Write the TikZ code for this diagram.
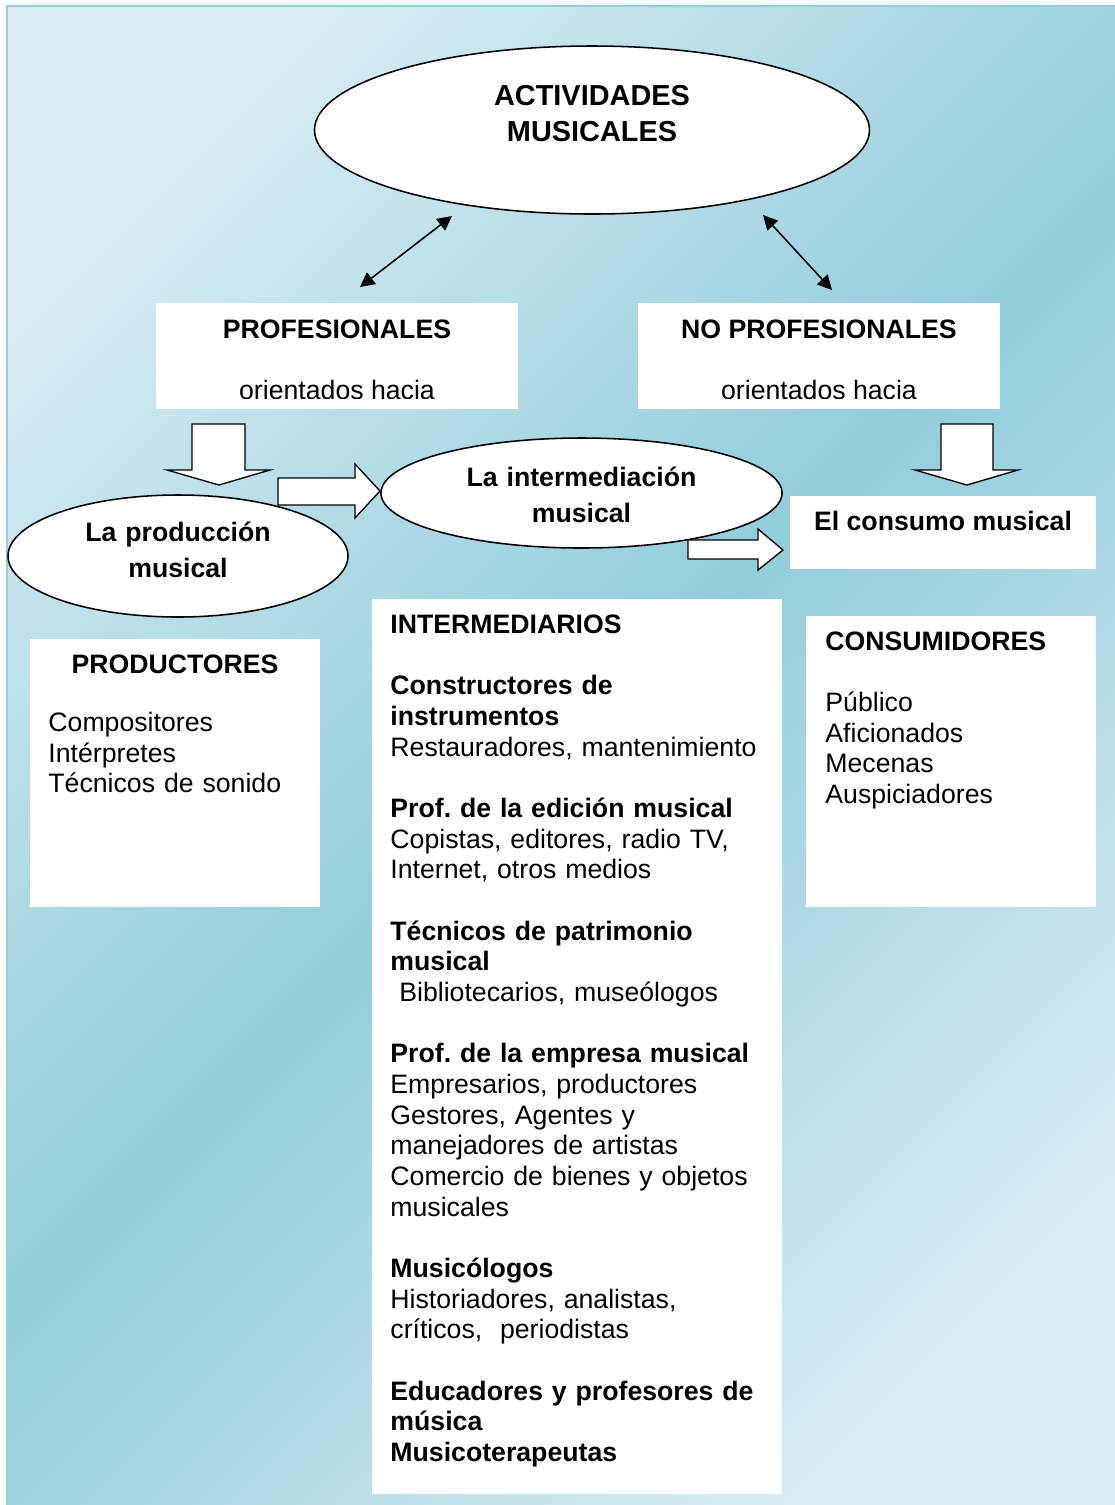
\documentclass[tikz,border=0pt]{standalone}
\usepackage{fontspec}
\setmainfont{Liberation Sans}
\usetikzlibrary{arrows.meta,shapes.geometric}
\frenchspacing

\definecolor{bglight}{HTML}{DCEEF4}
\definecolor{bgdark}{HTML}{92CDDC}
\pgfdeclarehorizontalshading{skyshade}{100bp}{color(0bp)=(bglight); color(22bp)=(bglight); color(50bp)=(bgdark); color(78bp)=(bglight); color(100bp)=(bglight)}

\tikzset{
  bubble/.style={ellipse, draw, fill=white, line width=0.7pt, inner sep=0pt},
  whitebox/.style={fill=white, inner sep=0pt},
  headtext/.style={font=\bfseries\fontsize{12}{13.8}\selectfont, inner sep=0pt, anchor=base},
  bubbletext/.style={font=\bfseries\fontsize{12}{16}\selectfont, inner sep=0pt, text width=120pt, align=center, anchor=base},
  listtext/.style={font=\fontsize{12}{13.8}\selectfont, inner sep=0pt, align=left, anchor=base west},
  blockarrow/.style={draw, fill=white, line width=0.6pt, line join=miter},
  dblarrow/.style={line width=0.7pt, arrows={Triangle[length=6.5pt,width=6.5pt]-Triangle[length=6.5pt,width=6.5pt]}}
}

\begin{document}
\begin{tikzpicture}[x=0.45pt, y=-0.45pt]
    \useasboundingbox (0,0) rectangle (1115,1505);
    % background
    \shade[shading=skyshade, shading angle=-45] (7,6) rectangle (1117,1507);
    \draw[bgdark, line width=1.3pt] (7,6) rectangle (1117,1507);

    % top
    \node[bubble, minimum width=249.75pt, minimum height=75.6pt] (act) at (592,130) {};
    \node[headtext, font=\bfseries\fontsize{13}{16.5}\selectfont, align=center, anchor=center] (acttxt) at (592,113.5) {ACTIVIDADES\\MUSICALES};

    \coordinate (pa) at (452,216);
    \coordinate (pb) at (360,287);
    \coordinate (na) at (763,215);
    \coordinate (nb) at (832,290);
    \draw[dblarrow] (pa) -- (pb);
    \draw[dblarrow] (na) -- (nb);

    \node[whitebox, minimum width=162.9pt, minimum height=47.7pt] (prof) at (337,356) {};
    \node[headtext] (proftxt) at (337,338) {PROFESIONALES};
    \begin{scope}
        \clip (156,303) rectangle (518,398);
        \node[listtext, anchor=base] (profor) at (337,399) {orientados hacia};
    \end{scope}

    \node[whitebox, minimum width=162.9pt, minimum height=47.7pt] (noprof) at (819,356) {};
    \node[headtext] (noproftxt) at (819,338) {NO PROFESIONALES};
    \begin{scope}
        \clip (638,303) rectangle (1000,398);
        \node[listtext, anchor=base] (noprofor) at (819,399) {orientados hacia};
    \end{scope}

    % block arrows
    \draw[blockarrow] (192,424) -- (245,424) -- (245,470) -- (270,470) -- (219,485) -- (167,470) -- (192,470) -- cycle;
    \draw[blockarrow] (941,424) -- (993,424) -- (993,470) -- (1018,470) -- (967,485) -- (915,470) -- (941,470) -- cycle;

    % middle row
    \node[bubble, minimum width=153pt, minimum height=54.9pt] (prod) at (178,556) {};
    \node[bubbletext] (prodtxt) at (178,541.7) {La producción\\musical};

    \node[bubble, minimum width=180.5pt, minimum height=49.5pt] (inter) at (581.5,493) {};
    \node[bubbletext] (intertxt) at (581.5,486.5) {La intermediación\\musical};

    \node[whitebox, minimum width=137.7pt, minimum height=32.85pt] (cons) at (943,532.5) {};
    \node[headtext] (constxt) at (943,530.7) {El consumo musical};

    \draw[blockarrow] (278,478) -- (355,478) -- (355,464) -- (380,491) -- (355,518) -- (355,505) -- (278,505) -- cycle;
    \draw[blockarrow] (688,540) -- (758,540) -- (758,529) -- (783,550) -- (758,570) -- (758,559) -- (688,559) -- cycle;

    % lower boxes
    \node[whitebox, minimum width=130.5pt, minimum height=120.6pt] (prodbox) at (175,773) {};
    \node[headtext] (prodhead) at (175,673) {PRODUCTORES};
    \node[listtext, text width=120pt] (prodlist) at (48,731.5) {Compositores\\Intérpretes\\Técnicos de sonido};

    \node[whitebox, minimum width=184.5pt, minimum height=402.75pt] (interbox) at (577,1046.5) {};
    \node[listtext, text width=175pt] (interlist) at (390,633.5) {\textbf{INTERMEDIARIOS}\\[13.8pt]
        \textbf{Constructores de}\\
        \textbf{instrumentos}\\
        Restauradores, mantenimiento\\[13.8pt]
        \textbf{Prof. de la edición musical}\\
        Copistas, editores, radio TV,\\
        Internet, otros medios\\[13.8pt]
        \textbf{Técnicos de patrimonio}\\
        \textbf{musical}\\
        ~Bibliotecarios, museólogos\\[13.8pt]
        \textbf{Prof. de la empresa musical}\\
        Empresarios, productores\\
        Gestores, Agentes y\\
        manejadores de artistas\\
        Comercio de bienes y objetos\\
        musicales\\[13.8pt]
        \textbf{Musicólogos}\\
        Historiadores, analistas,\\
        críticos,~ periodistas\\[13.8pt]
        \textbf{Educadores y profesores de}\\
        \textbf{música}\\
        \textbf{Musicoterapeutas}};

    \node[whitebox, minimum width=130.5pt, minimum height=130.95pt] (consbox) at (951,761.5) {};
    \node[listtext, text width=120pt] (conslist) at (825,650) {\textbf{CONSUMIDORES}\\[13.8pt]
        Público\\Aficionados\\Mecenas\\Auspiciadores};

\end{tikzpicture}
\end{document}
